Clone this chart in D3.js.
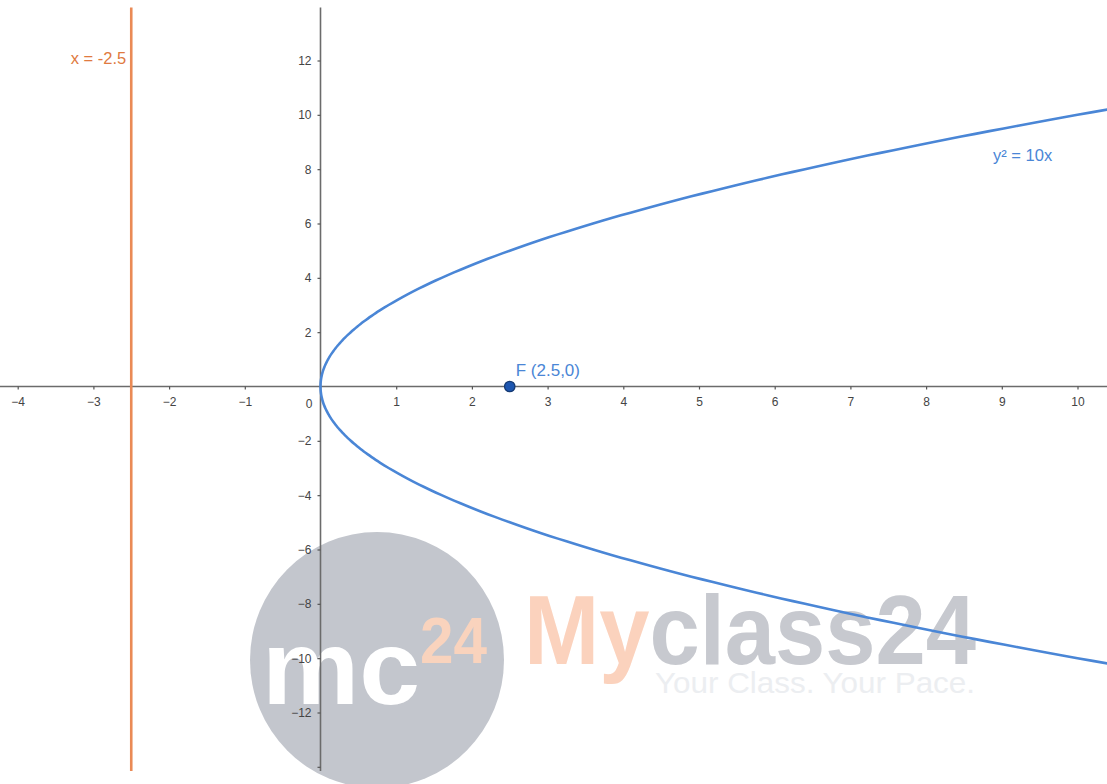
<!DOCTYPE html>
<html><head><meta charset="utf-8">
<script src="https://cdn.jsdelivr.net/npm/d3@7"></script>
<style>html,body{margin:0;padding:0;background:#fff;overflow:hidden}svg{display:block}</style>
</head><body>
<svg id="c" width="1107" height="784"></svg>
<script>
// ---- data ----
const xTicks = [-4,-3,-2,-1,1,2,3,4,5,6,7,8,9,10];
const yTicks = [12,10,8,6,4,2,-2,-4,-6,-8,-10,-12,-14];
const yTickLabels = [12,10,8,6,4,2,-2,-4,-6,-8,-10,-12];
const parabolaCoef = 10;            // y^2 = 10x
const directrixX = -2.5;            // x = -2.5
const focus = {x: 2.5, y: 0, label: "F (2.5,0)"};
const curveLabel = "y² = 10x";
const directrixLabel = "x = -2.5";
const ySamples = d3.range(-10.6, 10.61, 0.1); // parameter samples along the curve

// ---- scales ----
const W = 1107, H = 784;
const x = d3.scaleLinear().domain([0, 10]).range([320.5, 1077.5]);
const y = d3.scaleLinear().domain([0, 12]).range([386.5, 60.5]);
const svg = d3.select("#c");
const FF = "Liberation Sans, Arial, sans-serif";

// ---- watermark (behind) ----
const wm = svg.append("g");
wm.append("ellipse").attr("cx", 377).attr("cy", 660).attr("rx", 127).attr("ry", 128).attr("fill", "#c3c6cd");
wm.append("text").attr("x", 262).attr("y", 704).attr("font-family", FF)
  .attr("font-weight", "bold").attr("font-size", 106).attr("fill", "#ffffff")
  .attr("textLength", 158).attr("lengthAdjust", "spacingAndGlyphs").text("mc");
wm.append("text").attr("x", 420).attr("y", 663).attr("font-family", FF)
  .attr("font-weight", "bold").attr("font-size", 64).attr("fill", "#f9d3bd")
  .attr("textLength", 67).attr("lengthAdjust", "spacingAndGlyphs").text("24");
const my = wm.append("text").attr("x", 524).attr("y", 664).attr("font-family", FF)
  .attr("font-weight", "bold").attr("font-size", 98)
  .attr("textLength", 452).attr("lengthAdjust", "spacingAndGlyphs");
my.append("tspan").attr("fill", "#fbd2bd").text("My");
my.append("tspan").attr("fill", "#c7c9cf").text("class24");
wm.append("text").attr("x", 655).attr("y", 693).attr("font-family", FF)
  .attr("font-size", 29).attr("fill", "#eceef1")
  .attr("textLength", 320).attr("lengthAdjust", "spacingAndGlyphs").text("Your Class. Your Pace.");

// ---- axes ----
const axisColor = "#6b6b6b";
svg.append("line").attr("x1", 0).attr("x2", W).attr("y1", y(0)).attr("y2", y(0))
  .attr("stroke", axisColor).attr("stroke-width", 1.6);
svg.append("line").attr("x1", x(0)).attr("x2", x(0)).attr("y1", y(13.95)).attr("y2", y(-14.15))
  .attr("stroke", axisColor).attr("stroke-width", 1.6);

const gx = svg.append("g").attr("transform", `translate(0,${y(0)})`)
  .call(d3.axisBottom(x).tickValues(xTicks).tickSize(3).tickPadding(8));
const gy = svg.append("g").attr("transform", `translate(${x(0)},0)`)
  .call(d3.axisLeft(y).tickValues(yTicks).tickSize(3).tickPadding(6)
        .tickFormat(d => yTickLabels.includes(d) ? d3.format("")(d) : ""));
[gx, gy].forEach(g => {
  g.select(".domain").remove();
  g.selectAll(".tick line").attr("stroke", "#555").attr("stroke-width", 1.2);
  g.selectAll(".tick text").attr("fill", "#444").attr("font-size", 12)
    .attr("font-family", FF);
});
svg.append("text").attr("x", x(0) - 8).attr("y", y(0) + 21).attr("text-anchor", "end")
  .attr("fill", "#444").attr("font-size", 12).attr("font-family", FF).text("0");

// ---- directrix ----
svg.append("line").attr("x1", x(directrixX)).attr("x2", x(directrixX)).attr("y1", y(13.95)).attr("y2", y(-14.15))
  .attr("stroke", "#ea8a55").attr("stroke-width", 2.6);
svg.append("text").attr("x", x(directrixX) - 5).attr("y", 64).attr("text-anchor", "end")
  .attr("fill", "#e07a40").attr("font-size", 16.5).attr("font-family", FF)
  .text(directrixLabel);

// ---- parabola ----
const line = d3.line().x(d => x(d * d / parabolaCoef)).y(d => y(d)).curve(d3.curveCatmullRom);
svg.append("path").datum(ySamples).attr("d", line).attr("fill", "none")
  .attr("stroke", "#4a86d6").attr("stroke-width", 2.6);
svg.append("text").attr("x", 993).attr("y", 161).attr("fill", "#4a86d6").attr("font-size", 16.5)
  .attr("font-family", FF).text(curveLabel);

// ---- focus ----
svg.append("circle").attr("cx", x(focus.x)).attr("cy", y(focus.y)).attr("r", 5.2)
  .attr("fill", "#1d56b0").attr("stroke", "#153a73").attr("stroke-width", 1.3);
svg.append("text").attr("x", x(focus.x) + 6).attr("y", y(focus.y) - 11).attr("fill", "#4a86d6")
  .attr("font-size", 17).attr("font-family", FF).text(focus.label);
</script>
</body></html>
